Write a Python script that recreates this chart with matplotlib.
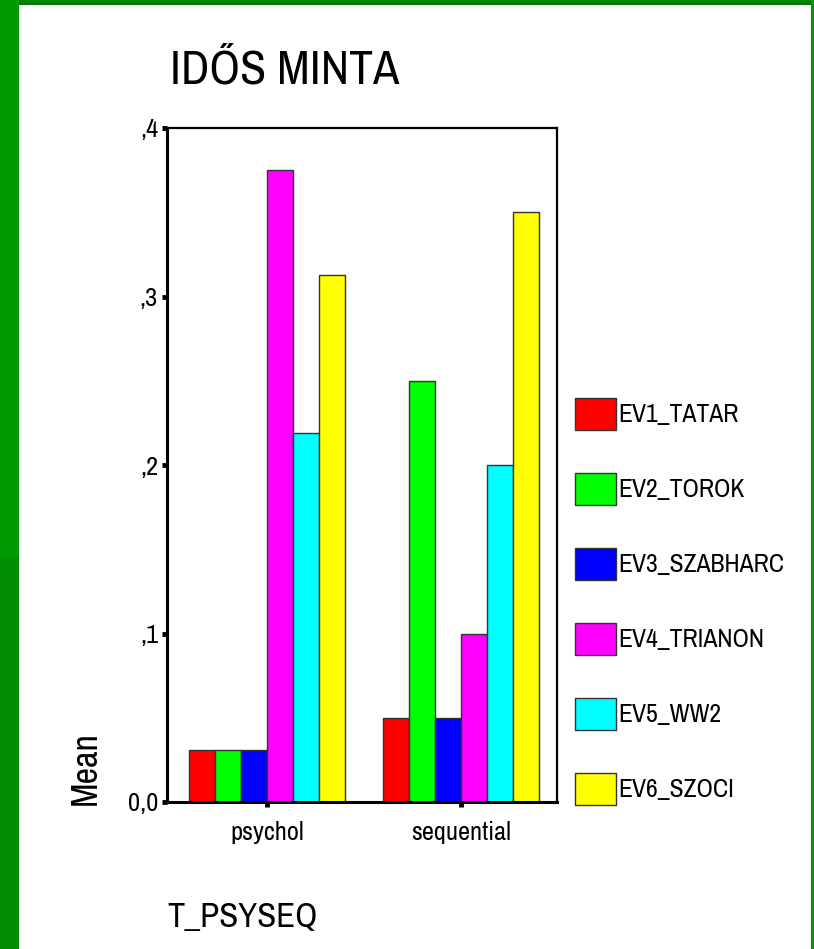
import numpy as np
import matplotlib
matplotlib.use('Agg')
import matplotlib.pyplot as plt
from matplotlib import font_manager
from matplotlib.patches import Rectangle, Patch

# narrow sans like the original (Arial Narrow look), take what is there
have = set(f.name for f in font_manager.fontManager.ttflist)
fams = [f for f in ['Nimbus Sans Narrow', 'Liberation Sans Narrow', 'Archivo Narrow',
                    'Roboto Condensed', 'Liberation Sans'] if f in have]
plt.rcParams['font.family'] = fams + ['DejaVu Sans']

# data
groups = ['psychol', 'sequential']
series = ['EV1_TATAR', 'EV2_TOROK', 'EV3_SZABHARC', 'EV4_TRIANON', 'EV5_WW2', 'EV6_SZOCI']
colors = ['#ff0000', '#00ff00', '#0000ff', '#ff00ff', '#00ffff', '#ffff00']
psychol = [0.031, 0.031, 0.031, 0.375, 0.219, 0.313]
sequential = [0.05, 0.25, 0.05, 0.10, 0.20, 0.35]
yticks = [0.0, 0.1, 0.2, 0.3, 0.4]
ytick_labels = ['0,0', ',1', ',2', ',3', ',4']

W, H = 814, 949
fig = plt.figure(figsize=(W/100, H/100), dpi=100)
fig.patch.set_facecolor('white')

def px(x, y, w, h):
    # pixel box (top-left origin) -> figure fraction
    return [x/W, 1-(y+h)/H, w/W, h/H]

# green frame
for (x, y, w, h, c) in [(0, 0, W, 5, '#008000'),
                        (0, 0, 19, 557, '#009900'),
                        (0, 557, 19, H-557, '#008c00'),
                        (811, 0, 3, H, '#009900')]:
    b = px(x, y, w, h)
    fig.patches.append(Rectangle((b[0], b[1]), b[2], b[3], transform=fig.transFigure,
                                 facecolor=c, edgecolor='none', zorder=0))

ax = fig.add_axes(px(167, 128, 390, 674))
vals = np.array([psychol, sequential])
x = np.arange(len(groups))
bw = 0.134
for i in range(len(series)):
    ax.bar(x + (i-2.5)*bw, vals[:, i], width=bw,
           color=colors[i], edgecolor='#333333', linewidth=1.0)

ax.set_xlim(-0.515, 1.495)
ax.set_ylim(0, 0.4)
ax.set_yticks(yticks)
ax.set_yticklabels(ytick_labels, fontsize=19)
ax.set_xticks(x)
ax.set_xticklabels(groups, fontsize=19)
ax.tick_params(axis='both', direction='out', length=3.5, width=3.5, color='black')
ax.tick_params(axis='y', pad=3)
ax.tick_params(axis='x', pad=10.5)
for s in ['left', 'bottom']:
    ax.spines[s].set_linewidth(2.2)
for s in ['top', 'right']:
    ax.spines[s].set_linewidth(1.6)

fig.text(170/W, 1-84/H, 'IDŐS MINTA', fontsize=34.5, ha='left', va='baseline')
fig.text(85/W, 1-768/H, 'Mean', fontsize=26, rotation=90, ha='center', va='center')
fig.text(167/W, 1-927/H, 'T_PSYSEQ', fontsize=25, ha='left', va='baseline')

handles = [Patch(facecolor=c, edgecolor='#333333', linewidth=1.0) for c in colors]
fig.legend(handles, series, loc='upper left', bbox_to_anchor=(575/W, 1-398/H),
           frameon=False, fontsize=18.5, borderpad=0, borderaxespad=0,
           handlelength=1.6, handleheight=1.54, handletextpad=0.08, labelspacing=1.67)

fig.savefig('out.png', dpi=100, facecolor='white')
